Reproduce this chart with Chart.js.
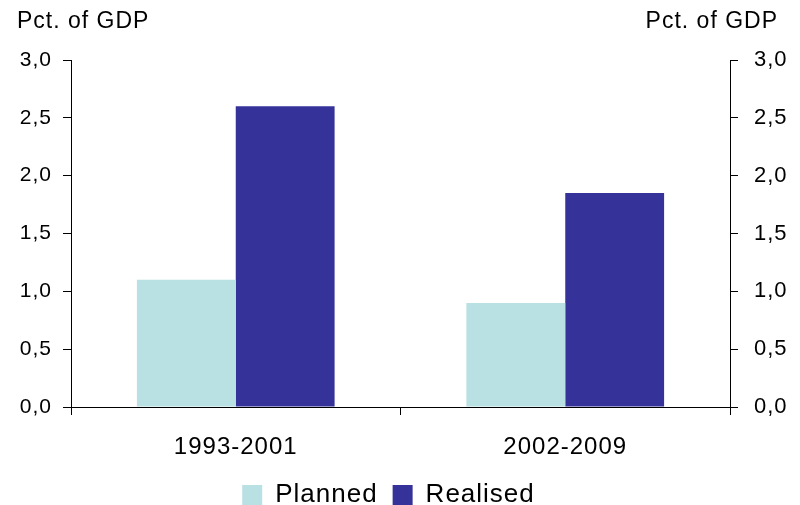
<!DOCTYPE html>
<html>
<head>
<meta charset="utf-8">
<script src="https://cdn.jsdelivr.net/npm/chart.js@4/dist/chart.umd.min.js"></script>
<style>
  html, body { margin: 0; padding: 0; background: #fff; }
  #wrap { width: 800px; height: 505px; }
</style>
</head>
<body>
<div id="wrap"><canvas id="c" width="800" height="505"></canvas></div>
<script>
// Periods and series (percent of GDP)
const periods = ['1993-2001', '2002-2009'];
const planned = [1.1, 0.9];
const realised = [2.6, 1.85];
const unitLabel = 'Pct. of GDP';

const FONT = "'Liberation Sans', Arial, sans-serif";
const comma = v => Number(v).toFixed(1).replace('.', ',');

// Slightly open letter spacing for every text drawn on the canvas
const spacing = {
  id: 'spacing',
  beforeInit(chart) { chart.ctx.letterSpacing = '1px'; },
  beforeUpdate(chart) { chart.ctx.letterSpacing = '1px'; },
  beforeDraw(chart) { chart.ctx.letterSpacing = '1px'; }
};

// Centre the legend a little left of the canvas middle
const legendShift = {
  id: 'legendShift',
  afterLayout(chart) {
    if (chart.legend) chart.legend.right -= 23;
  }
};

// Unit captions above both value axes
const unitCaptions = {
  id: 'unitCaptions',
  afterDraw(chart) {
    const ctx = chart.ctx;
    ctx.save();
    ctx.fillStyle = '#000';
    ctx.font = '23px ' + FONT;
    ctx.textBaseline = 'middle';
    ctx.textAlign = 'left';
    ctx.fillText(unitLabel, 17, 22);
    ctx.textAlign = 'right';
    ctx.fillText(unitLabel, 778, 22);
    ctx.restore();
  }
};

const axisGrid = {
  display: true,
  drawOnChartArea: false,
  drawTicks: true,
  tickLength: 8,
  color: '#000',
  lineWidth: 1
};

new Chart(document.getElementById('c'), {
  type: 'bar',
  data: {
    labels: periods,
    datasets: [
      { label: 'Planned', data: planned, backgroundColor: '#b9e0e3', yAxisID: 'y' },
      { label: 'Realised', data: realised, backgroundColor: '#353399', yAxisID: 'y' }
    ]
  },
  options: {
    responsive: false,
    animation: false,
    layout: { padding: { top: 60, left: 0, right: 0, bottom: -13 } },
    datasets: { bar: { categoryPercentage: 0.6, barPercentage: 1.0 } },
    plugins: {
      tooltip: { enabled: false },
      legend: {
        position: 'bottom',
        labels: {
          boxWidth: 20,
          boxHeight: 20,
          padding: 15,
          color: '#000',
          font: { family: FONT, size: 26 }
        }
      }
    },
    scales: {
      x: {
        grid: Object.assign({}, axisGrid, { offset: true }),
        border: { display: true, color: '#000', width: 1 },
        ticks: { color: '#000', padding: 18, font: { family: FONT, size: 24 } },
        afterFit(s) { s.height = 60; }
      },
      y: {
        position: 'left',
        min: 0, max: 3,
        grid: axisGrid,
        border: { display: true, color: '#000', width: 1 },
        ticks: { stepSize: 0.5, color: '#000', padding: 11, callback: comma, font: { family: FONT, size: 21 } },
        afterFit(s) { s.width = 71; }
      },
      y2: {
        position: 'right',
        min: 0, max: 3,
        grid: axisGrid,
        border: { display: true, color: '#000', width: 1 },
        ticks: { stepSize: 0.5, color: '#000', padding: 16, callback: comma, font: { family: FONT, size: 22 } },
        afterFit(s) { s.width = 70; }
      }
    }
  },
  plugins: [spacing, legendShift, unitCaptions]
});
</script>
</body>
</html>
